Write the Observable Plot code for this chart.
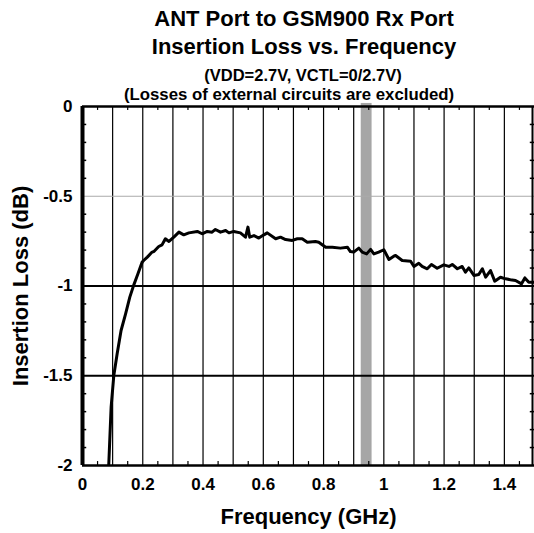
<!DOCTYPE html>
<html>
<head>
<meta charset="utf-8">
<script src="https://cdn.jsdelivr.net/npm/d3@7"></script>
<script src="https://cdn.jsdelivr.net/npm/@observablehq/plot@0.6"></script>
<style>
  html, body { margin: 0; padding: 0; background: white; }
</style>
</head>
<body>
<div id="chart"></div>
<script>
const titleLines = ["ANT Port to GSM900 Rx Port", "Insertion Loss vs. Frequency"];
const subtitleLines = ["(VDD=2.7V, VCTL=0/2.7V)", "(Losses of external circuits are excluded)"];
const xLabel = "Frequency (GHz)";
const yLabel = "Insertion Loss (dB)";

const freq = [0.084, 0.087, 0.095, 0.104, 0.115, 0.128, 0.143, 0.157, 0.170, 0.184, 0.198, 0.203, 0.215, 0.231, 0.237, 0.253, 0.264, 0.275, 0.287, 0.303, 0.320, 0.336, 0.353, 0.381, 0.397, 0.414, 0.430, 0.441, 0.458, 0.475, 0.486, 0.502, 0.524, 0.541, 0.549, 0.555, 0.569, 0.585, 0.602, 0.613, 0.641, 0.657, 0.674, 0.696, 0.713, 0.729, 0.746, 0.773, 0.784, 0.807, 0.829, 0.856, 0.879, 0.889, 0.900, 0.917, 0.928, 0.943, 0.956, 0.967, 0.983, 1.000, 1.017, 1.033, 1.039, 1.061, 1.089, 1.100, 1.116, 1.127, 1.144, 1.158, 1.177, 1.199, 1.216, 1.227, 1.244, 1.260, 1.271, 1.282, 1.299, 1.315, 1.327, 1.338, 1.354, 1.368, 1.387, 1.404, 1.420, 1.437, 1.457, 1.468, 1.481, 1.497];
const loss = [-2.1, -2.0, -1.675, -1.497, -1.378, -1.248, -1.155, -1.062, -0.995, -0.932, -0.867, -0.858, -0.839, -0.811, -0.808, -0.780, -0.771, -0.737, -0.752, -0.728, -0.700, -0.715, -0.704, -0.696, -0.709, -0.696, -0.700, -0.685, -0.700, -0.691, -0.704, -0.696, -0.704, -0.728, -0.672, -0.728, -0.719, -0.733, -0.715, -0.704, -0.737, -0.728, -0.741, -0.746, -0.737, -0.737, -0.756, -0.752, -0.756, -0.784, -0.784, -0.789, -0.784, -0.808, -0.811, -0.789, -0.811, -0.821, -0.796, -0.821, -0.811, -0.798, -0.852, -0.834, -0.830, -0.858, -0.862, -0.891, -0.873, -0.891, -0.904, -0.880, -0.901, -0.882, -0.891, -0.880, -0.904, -0.891, -0.923, -0.899, -0.941, -0.936, -0.904, -0.951, -0.914, -0.973, -0.951, -0.960, -0.965, -0.969, -0.988, -0.955, -0.979, -0.979];

const xTicks = [0, 0.2, 0.4, 0.6, 0.8, 1, 1.2, 1.4];
const yTicks = [0, -0.5, -1, -1.5, -2];
const xGrid = [0.1, 0.2, 0.3, 0.4, 0.5, 0.6, 0.7, 0.8, 0.9, 1.0, 1.1, 1.2, 1.3, 1.4];
const xMinor = [0.05, 0.15, 0.25, 0.35, 0.45, 0.55, 0.65, 0.75, 0.85, 0.95, 1.05, 1.15, 1.25, 1.35, 1.45];
const yMinor = [-0.1, -0.2, -0.3, -0.4, -0.6, -0.7, -0.8, -0.9, -1.1, -1.2, -1.3, -1.4, -1.6, -1.7, -1.8, -1.9];
const band = [{from: 0.925, to: 0.961}];

const data = freq.map((f, i) => ({f, v: loss[i]}));
const font = "'Liberation Sans', Arial, Helvetica, sans-serif";

const plot = Plot.plot({
  width: 534,
  height: 533,
  marginLeft: 82,
  marginRight: 0,
  marginTop: 106,
  marginBottom: 68,
  style: {fontFamily: font, fontWeight: "bold", fontSize: "17px", background: "white", color: "black", overflow: "visible"},
  x: {domain: [0, 1.5]},
  y: {domain: [-2, 0]},
  marks: [
    Plot.rectX(band, {x1: "from", x2: "to", y1: -2, y2: 0.017, fill: "#a6a6a6"}),
    Plot.ruleX(xGrid, {x: d => d, stroke: "black", strokeWidth: 1.2}),
    Plot.ruleY([-0.5], {y: d => d, stroke: "#aaaaaa", strokeWidth: 1}),
    Plot.ruleY([-1, -1.5], {y: d => d, stroke: "black", strokeWidth: 2}),
    Plot.ruleX(xMinor, {x: d => d, y1: 0, y2: -0.022, stroke: "black", strokeWidth: 1.2}),
    Plot.ruleX(xMinor, {x: d => d, y1: -2, y2: -1.978, stroke: "black", strokeWidth: 1.2}),
    Plot.ruleY(yMinor, {y: d => d, x1: 0, x2: 0.014, stroke: "black", strokeWidth: 1.5}),
    Plot.ruleY(yMinor, {y: d => d, x1: 1.5, x2: 1.486, stroke: "black", strokeWidth: 1.5}),
    Plot.line(data, {x: "f", y: "v", stroke: "black", strokeWidth: 3, strokeLinejoin: "round", clip: true}),
    Plot.ruleY([0], {y: d => d, stroke: "black", strokeWidth: 2.5}),
    Plot.ruleY([-2], {y: d => d, stroke: "black", strokeWidth: 2.5}),
    Plot.ruleX([1.5], {x: d => d, stroke: "black", strokeWidth: 2, dx: -2}),
    Plot.ruleX([0], {x: d => d, stroke: "black", strokeWidth: 4}),
    Plot.axisX({ticks: xTicks, tickSize: 0, tickPadding: 12, tickFormat: d => String(d), fontSize: 17, fontWeight: "bold", label: null}),
    Plot.axisY({ticks: yTicks, tickSize: 0, tickPadding: 10, tickFormat: d => String(d), fontSize: 17, fontWeight: "bold", label: null}),
    Plot.text([titleLines[0]], {text: d => d, frameAnchor: "top", dx: -4.5, dy: -81, lineAnchor: "bottom", fontSize: 22, fontWeight: "bold", fill: "black"}),
    Plot.text([titleLines[1]], {text: d => d, frameAnchor: "top", dx: -4.5, dy: -53, lineAnchor: "bottom", fontSize: 22, fontWeight: "bold", fill: "black"}),
    Plot.text([subtitleLines[0]], {text: d => d, frameAnchor: "top", dx: -5.5, dy: -26, lineAnchor: "bottom", fontSize: 16.5, fontWeight: "bold", fill: "black"}),
    Plot.text([subtitleLines[1]], {text: d => d, frameAnchor: "top", dx: -19.5, dy: -7, lineAnchor: "bottom", fontSize: 16.8, fontWeight: "bold", fill: "black"}),
    Plot.text([xLabel], {text: d => d, frameAnchor: "bottom", dy: 58, lineAnchor: "bottom", fontSize: 22, fontWeight: "bold", fill: "black"}),
    Plot.text([yLabel], {text: d => d, frameAnchor: "left", textAnchor: "middle", dx: -62, rotate: -90, lineAnchor: "middle", fontSize: 22, fontWeight: "bold", fill: "black"})
  ]
});
document.getElementById("chart").appendChild(plot);
</script>
</body>
</html>
